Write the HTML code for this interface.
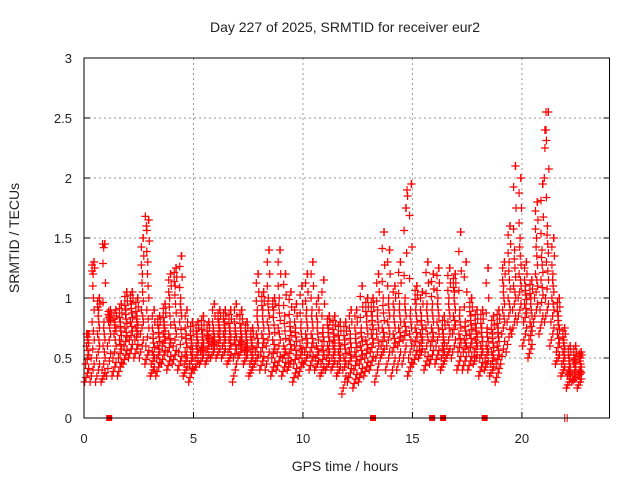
<!DOCTYPE html>
<html><head><meta charset="utf-8"><style>
body{margin:0;background:#fff;}
svg text{font-family:"Liberation Sans",sans-serif;fill:#222;}
</style></head><body>
<svg id="c" width="640" height="480" xmlns="http://www.w3.org/2000/svg">
<rect width="640" height="480" fill="#fff"/>
<text x="345" y="32" font-size="14" text-anchor="middle">Day 227 of 2025, SRMTID for receiver eur2</text>
<text x="345" y="471" font-size="14" text-anchor="middle">GPS time / hours</text>
<text transform="translate(19,238) rotate(-90)" font-size="14" text-anchor="middle">SRMTID / TECUs</text>
<g id="grid"></g><g id="pts"></g><g id="marks"></g>
<rect x="84" y="58" width="525.5" height="360" fill="none" stroke="#000" stroke-width="1"/>
</svg>
<script>
const xTicks=[0,5,10,15,20];
const yTicks=[0,0.5,1,1.5,2,2.5,3];
const yTickLabels=["0","0.5","1","1.5","2","2.5","3"];
const binStart=0, binStep=0.25;
const sLow=[0.3,0.3,0.3,0.3,0.35,0.35,0.35,0.45,0.5,0.5,0.5,0.45,0.35,0.35,0.45,0.4,0.45,0.4,0.35,0.3,0.4,0.45,0.45,0.5,0.5,0.5,0.45,0.3,0.5,0.45,0.35,0.45,0.4,0.4,0.35,0.4,0.35,0.4,0.3,0.35,0.45,0.4,0.4,0.35,0.4,0.4,0.35,0.2,0.3,0.25,0.3,0.35,0.4,0.3,0.5,0.4,0.35,0.4,0.45,0.35,0.45,0.5,0.4,0.45,0.45,0.4,0.5,0.5,0.4,0.4,0.4,0.45,0.35,0.4,0.35,0.3,0.45,0.55,0.7,0.8,0.6,0.5,0.8,0.7,0.8,0.6,0.45,0.35,0.25,0.3,0.25];
const sQ1=[0.45,0.5,0.5,0.4,0.6,0.5,0.5,0.6,0.65,0.65,0.7,0.6,0.45,0.5,0.6,0.55,0.6,0.55,0.45,0.45,0.5,0.55,0.55,0.6,0.6,0.6,0.55,0.5,0.6,0.55,0.45,0.55,0.55,0.6,0.5,0.55,0.5,0.5,0.45,0.5,0.55,0.55,0.5,0.45,0.5,0.5,0.45,0.4,0.45,0.4,0.45,0.5,0.55,0.5,0.6,0.6,0.55,0.6,0.65,0.5,0.6,0.6,0.55,0.6,0.6,0.5,0.6,0.7,0.55,0.55,0.55,0.55,0.5,0.5,0.45,0.45,0.7,0.8,0.9,1.0,0.8,0.65,1.0,0.9,1.0,0.8,0.55,0.45,0.35,0.35,0.35];
const sMid=[0.6,0.8,0.7,0.6,0.8,0.7,0.65,0.75,0.8,0.75,0.9,0.9,0.55,0.6,0.7,0.7,0.8,0.8,0.55,0.55,0.6,0.6,0.65,0.65,0.7,0.7,0.65,0.65,0.65,0.6,0.55,0.7,0.7,0.8,0.65,0.75,0.6,0.65,0.6,0.6,0.7,0.7,0.6,0.6,0.6,0.6,0.55,0.5,0.55,0.55,0.6,0.65,0.7,0.7,0.75,0.8,0.7,0.75,0.8,0.7,0.75,0.7,0.75,0.75,0.8,0.6,0.8,0.85,0.7,0.65,0.7,0.65,0.6,0.6,0.55,0.6,0.9,1.0,1.1,1.2,0.95,0.8,1.2,1.15,1.3,1.0,0.7,0.55,0.4,0.45,0.4];
const sQ3=[0.7,1.2,0.9,0.8,0.85,0.8,0.8,0.9,0.95,0.85,1.2,1.3,0.7,0.75,0.8,1.0,1.1,1.0,0.7,0.65,0.7,0.7,0.7,0.75,0.8,0.8,0.75,0.75,0.75,0.7,0.65,0.9,0.9,1.0,0.9,1.0,0.85,0.8,0.75,0.8,0.9,0.9,0.8,0.75,0.75,0.7,0.65,0.65,0.7,0.7,0.75,0.85,0.85,0.9,1.0,1.0,0.9,0.95,1.0,0.9,0.95,0.85,0.95,0.95,1.0,0.7,1.0,1.05,0.9,0.8,0.85,0.75,0.75,0.75,0.7,0.75,1.1,1.3,1.4,1.5,1.1,1.0,1.5,1.4,1.6,1.2,0.85,0.65,0.5,0.5,0.5];
const sHigh=[0.7,1.3,1.0,1.45,0.9,0.9,0.95,1.05,1.05,1.0,1.5,1.65,0.9,0.85,0.95,1.2,1.25,1.35,0.9,0.8,0.8,0.85,0.8,0.95,0.9,0.9,0.9,0.95,0.9,0.8,0.75,1.2,1.05,1.4,1.0,1.4,1.2,1.05,0.95,1.1,1.2,1.3,1.0,1.15,0.85,0.85,0.8,0.8,0.9,0.9,1.1,1.0,1.0,1.2,1.55,1.4,1.1,1.3,1.75,1.95,1.1,1.05,1.3,1.2,1.25,0.85,1.25,1.2,1.55,1.3,1.0,0.9,0.9,1.25,0.85,0.9,1.3,1.6,2.1,2.0,1.3,1.15,1.8,1.95,2.55,1.5,1.0,0.75,0.6,0.6,0.55];
const peakTimes=[21.05,21.1,21.05,21.1,21.02,14.75,14.78,0.85,0.9,2.8,2.85];
const peakValues=[2.4,2.55,2.25,2.4,2.0,1.9,1.85,1.45,1.42,1.68,1.6];
const flagTimes=[1.15,13.2,15.9,16.4,18.3];
const X0=84,X1=609.5,Y0=418,Y1=58,XMAX=24,YMAX=3;
function sx(t){return X0+(X1-X0)*t/XMAX;}
function sy(v){return Y0-(Y0-Y1)*v/YMAX;}
const NS="http://www.w3.org/2000/svg";
const grid=document.getElementById('grid'),pts=document.getElementById('pts'),marks=document.getElementById('marks');
function mk(tag,at,parent){const e=document.createElementNS(NS,tag);for(const k in at)e.setAttribute(k,at[k]);parent.appendChild(e);return e;}
xTicks.forEach(t=>{
 const x=sx(t);
 if(t>0){const g=mk('line',{x1:x,y1:Y1,x2:x,y2:Y0,stroke:'#999','stroke-dasharray':'2,3'},grid);
 
 }
 const lb=mk('text',{x:x,y:Y0+25,'font-size':13,'text-anchor':'middle'},grid);lb.textContent=t;
 
 
 mk('line',{x1:x,y1:Y0,x2:x,y2:Y0-6,stroke:'#000'},grid);
});
yTicks.forEach((v,i)=>{
 const y=sy(v);
 if(v>0&&v<3){const g=mk('line',{x1:X0,y1:y,x2:X1,y2:y,stroke:'#999','stroke-dasharray':'2,3'},grid);
 
 }
 const lb=mk('text',{x:X0-12,y:y+5,'font-size':13,'text-anchor':'end'},grid);lb.textContent=yTickLabels[i];
 
 
 mk('line',{x1:X0,y1:y,x2:X0+6,y2:y,stroke:'#000'},grid);mk('line',{x1:X1,y1:y,x2:X1-6,y2:y,stroke:'#000'},grid);
});
let d='';
function cross(t,v){const x=sx(t),y=sy(v);d+=`M${(x-4).toFixed(1)} ${y.toFixed(1)}h8M${x.toFixed(1)} ${(y-4).toFixed(1)}v8`;}
const series=[sLow,sQ1,sMid,sQ3,sHigh];
for(let i=0;i<sMid.length;i++){
 const t=binStart+i*binStep;
 series.forEach((s,k)=>{
  const nxt=series[Math.min(k+1,4)][i];
  cross(t+0.03+k*0.045,s[i]);
  cross(t+0.16+((k*3)%5)*0.018,(s[i]+nxt)/2);
  if(k<4){cross(t+0.09+((k*2)%5)*0.03,(3*s[i]+nxt)/4);cross(t+0.21-k*0.03,(s[i]+3*nxt)/4);}
 });
}
for(let i=0;i<peakTimes.length;i++)cross(peakTimes[i],peakValues[i]);
const p=mk('path',{d:d,stroke:'#f00','stroke-width':1.2,fill:'none'},pts);


flagTimes.forEach(t=>{
 const r=mk('rect',{x:sx(t)-3,y:Y0-3,width:6,height:6,fill:'#f00'},marks);
 
 
});
const tm=mk('path',{d:`M${sx(22.0)-1} ${Y0-4}v8M${sx(22.0)+1.5} ${Y0-4}v8`,stroke:'#f00','stroke-width':1},marks);


</script>
</body></html>
